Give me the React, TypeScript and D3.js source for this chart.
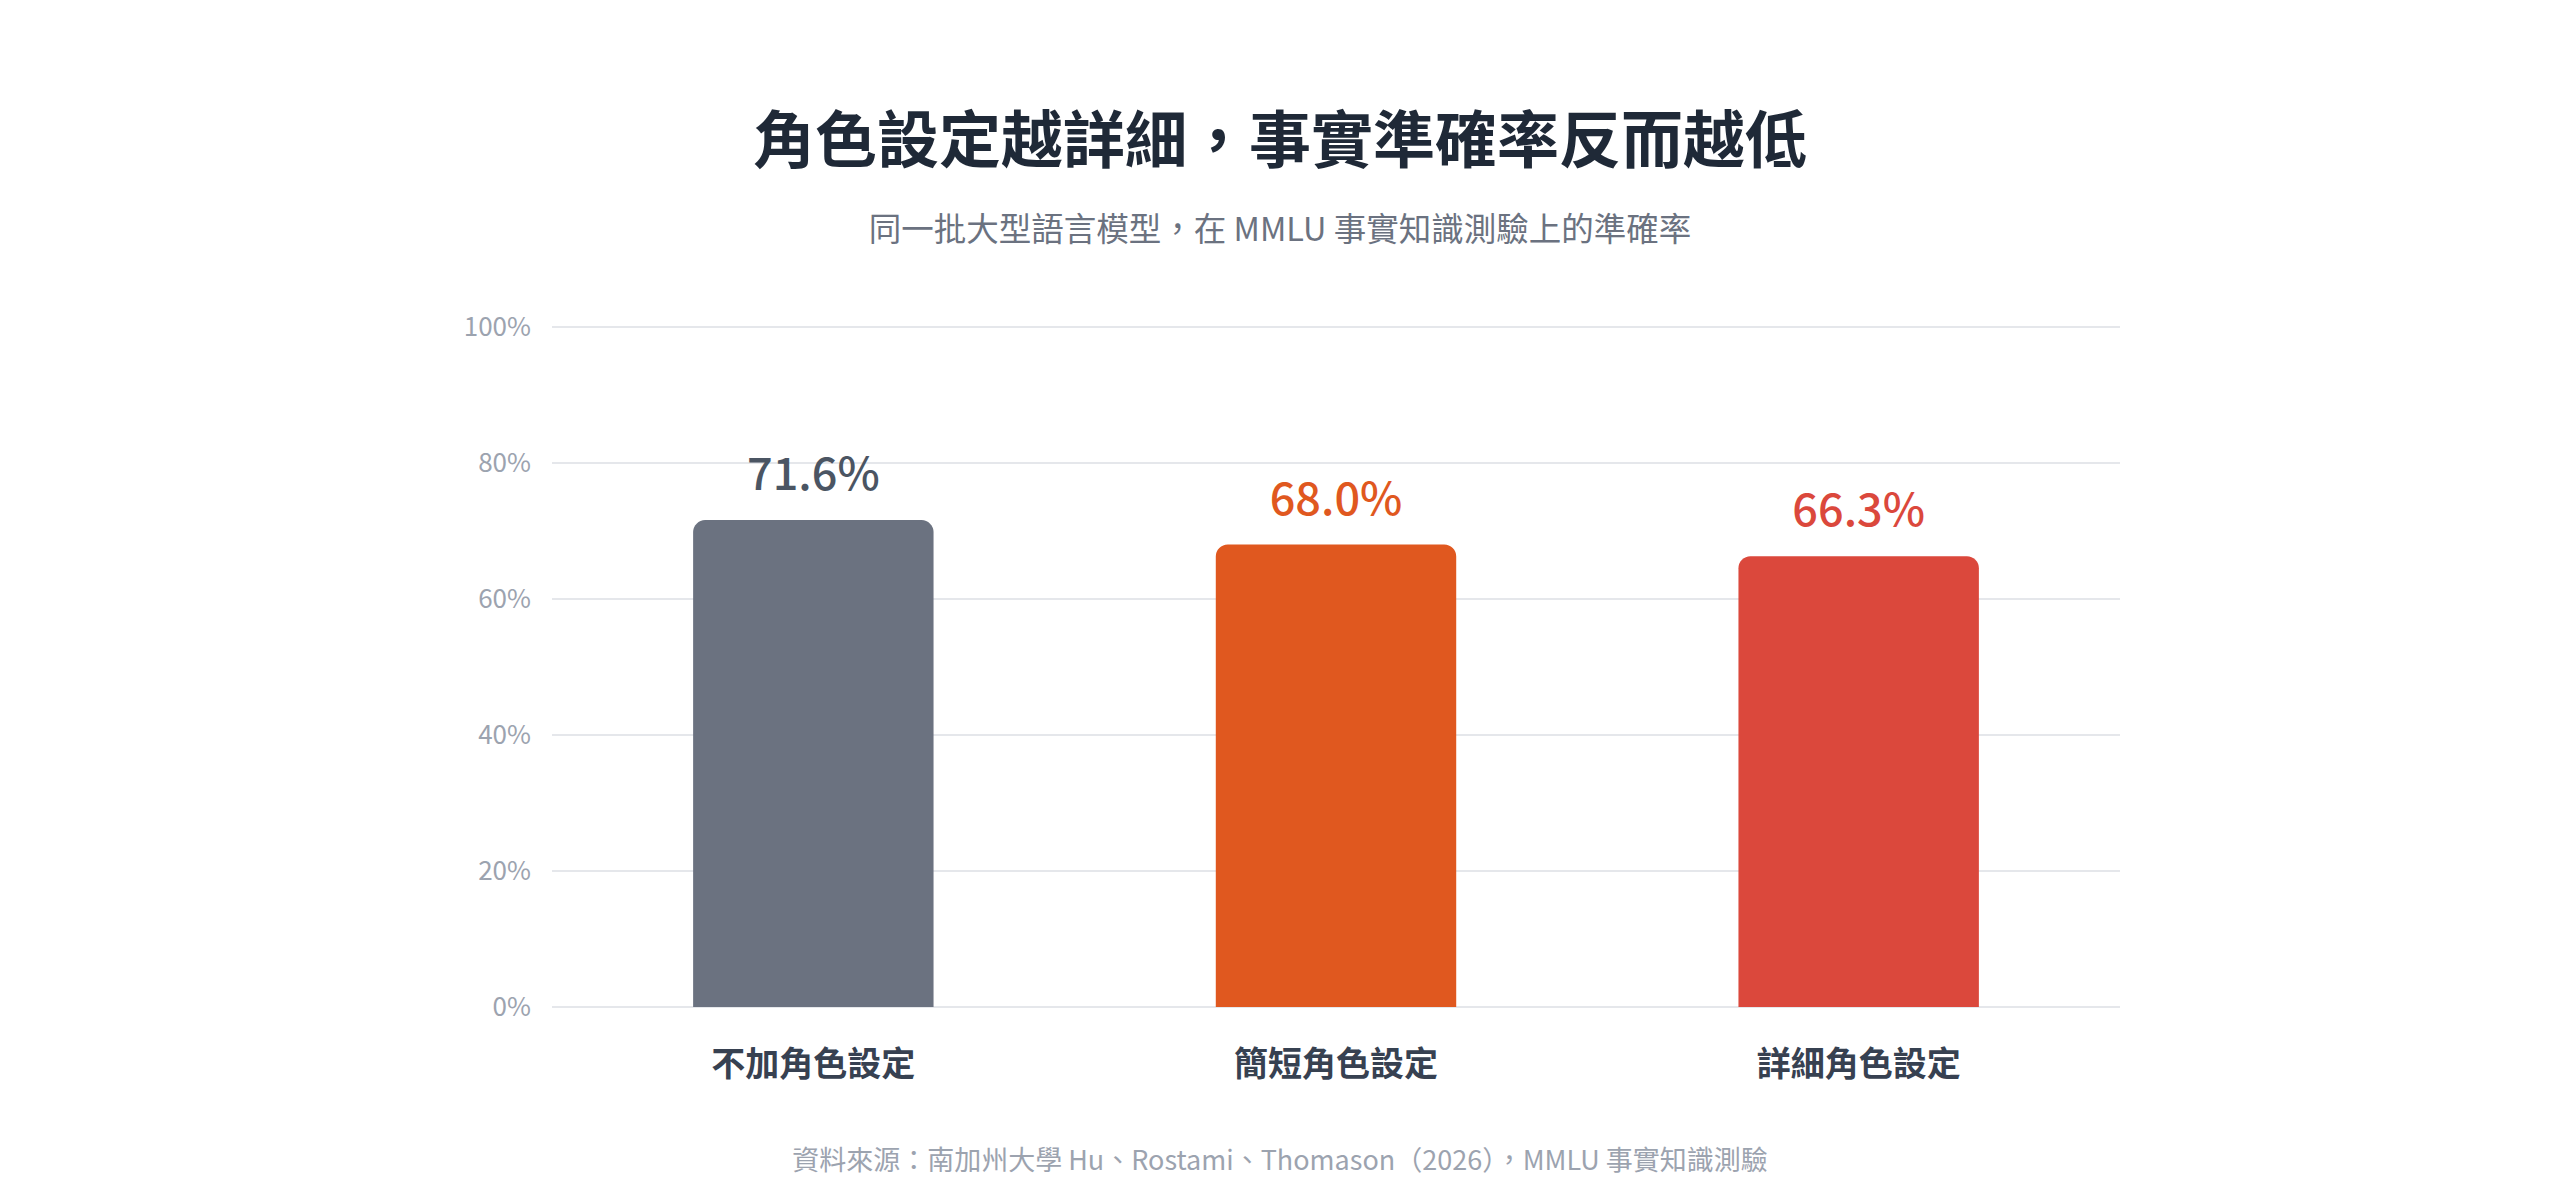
import * as d3 from 'd3';

const WIDTH = 2560;
const HEIGHT = 1200;
const MARGINS = { top: 327, right: 440, bottom: 193, left: 552 };
const FONT = '"Noto Sans CJK TC", "Noto Sans", sans-serif';

const TITLE = '角色設定越詳細，事實準確率反而越低';
const SUBTITLE = '同一批大型語言模型，在 MMLU 事實知識測驗上的準確率';
const SOURCE = '資料來源：南加州大學 Hu、Rostami、Thomason（2026），MMLU 事實知識測驗';

const categories = ['不加角色設定', '簡短角色設定', '詳細角色設定'];
const accuracy = [71.6, 68.0, 66.3];
const barColors = ['#6b7280', '#e0581f', '#db483c'];
const labelColors = ['#4b5563', '#e0581f', '#db483c'];
const yTicks = [0, 20, 40, 60, 80, 100];

function topRoundedBar(x: number, y: number, w: number, h: number, r: number) {
  return `M${x},${y + h}V${y + r}a${r},${r} 0 0 1 ${r},${-r}h${w - 2 * r}a${r},${r} 0 0 1 ${r},${r}V${y + h}z`;
}

export default function App() {
  const innerW = WIDTH - MARGINS.left - MARGINS.right;
  const innerH = HEIGHT - MARGINS.top - MARGINS.bottom;

  const x = d3
    .scaleBand<string>()
    .domain(categories)
    .range([0, innerW])
    .paddingInner(0.54)
    .paddingOuter(0.27);

  const y = d3.scaleLinear().domain([0, 100]).range([innerH, 0]);

  return (
    <div style={{ position: 'absolute', left: 0, top: 0 }}>
      <svg width={WIDTH} height={HEIGHT} style={{ display: 'block', background: '#fff', fontFamily: FONT }}>
        <text x={WIDTH / 2} y={163} textAnchor='middle' fontSize={62} fontWeight={700} fill='#1f2937'>
          {TITLE}
        </text>
        <text x={WIDTH / 2} y={241} textAnchor='middle' fontSize={32.5} fill='#6b7280'>
          {SUBTITLE}
        </text>

        <g transform={`translate(${MARGINS.left},${MARGINS.top})`}>
          {yTicks.map((t) => (
            <g key={t} transform={`translate(0,${y(t)})`}>
              <line x1={0} x2={innerW} stroke='#e5e7eb' strokeWidth={2} />
              <text x={-21} dy='0.35em' textAnchor='end' fontSize={26} fill='#9ca3af'>
                {`${t}%`}
              </text>
            </g>
          ))}

          {categories.map((c, i) => {
            const bx = x(c) ?? 0;
            const by = y(accuracy[i]);
            return (
              <g key={c}>
                <path d={topRoundedBar(bx, by, x.bandwidth(), innerH - by, 12)} fill={barColors[i]} />
                <text
                  x={bx + x.bandwidth() / 2}
                  y={by - 30}
                  textAnchor='middle'
                  fontSize={45}
                  fontWeight={500}
                  fill={labelColors[i]}
                >
                  {`${accuracy[i].toFixed(1)}%`}
                </text>
                <text
                  x={bx + x.bandwidth() / 2}
                  y={innerH + 69}
                  textAnchor='middle'
                  fontSize={34}
                  fontWeight={700}
                  fill='#374151'
                >
                  {c}
                </text>
              </g>
            );
          })}
        </g>

        <text x={WIDTH / 2} y={1170} textAnchor='middle' fontSize={27} fill='#9ca3af'>
          {SOURCE}
        </text>
      </svg>
    </div>
  );
}
